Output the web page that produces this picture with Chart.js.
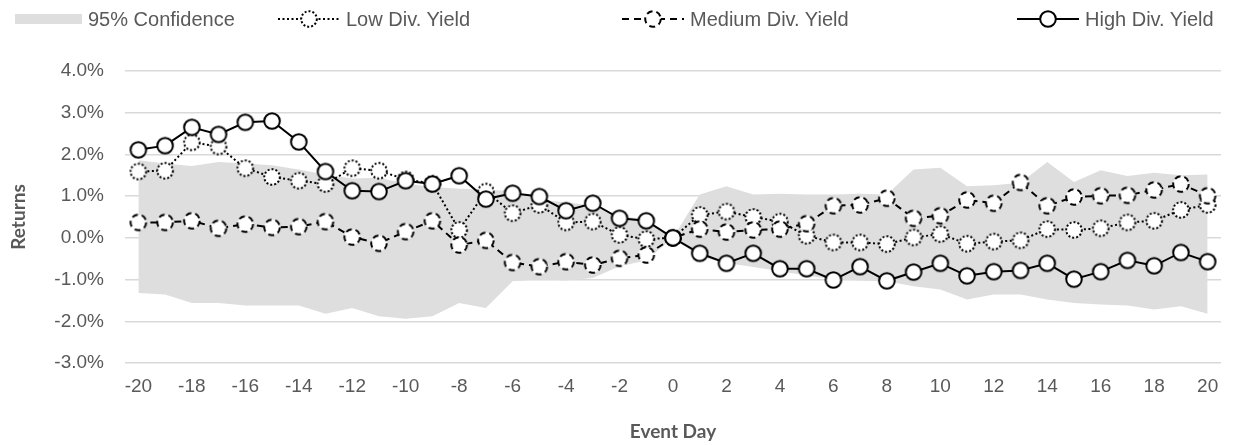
<!DOCTYPE html>
<html>
<head>
<meta charset="utf-8">
<script src="https://cdn.jsdelivr.net/npm/chart.js@4.4.1/dist/chart.umd.min.js"></script>
<style>
  html, body { margin: 0; padding: 0; background: #fff; }
  #wrap { position: relative; width: 1233px; height: 445px; }
  #legend { position: absolute; left: 0; top: 0; width: 1233px; height: 40px; }
  .item { position: absolute; top: 6px; height: 26px; display: flex; align-items: center;
          font-family: "Liberation Sans", Arial, sans-serif; font-size: 20px; color: #595959; white-space: nowrap; }
  .item canvas { margin-right: 6px; }
</style>
</head>
<body>
<div id="wrap">
  <canvas id="mycanvas" width="1233" height="445"></canvas>
  <div id="legend"></div>
</div>
<script>
// event days -20 .. 20
var days = [-20,-19,-18,-17,-16,-15,-14,-13,-12,-11,-10,-9,-8,-7,-6,-5,-4,-3,-2,-1,0,
            1,2,3,4,5,6,7,8,9,10,11,12,13,14,15,16,17,18,19,20];

// returns in %
var lowYield = [1.59,1.61,2.29,2.19,1.67,1.46,1.37,1.29,1.67,1.61,1.40,1.30,0.19,1.11,0.59,0.79,0.37,0.39,0.07,-0.03,0.00,
                0.55,0.63,0.50,0.39,0.05,-0.11,-0.11,-0.15,0.01,0.09,-0.14,-0.09,-0.06,0.21,0.19,0.23,0.37,0.41,0.67,0.79];
var medYield = [0.37,0.37,0.41,0.23,0.33,0.25,0.27,0.39,0.02,-0.13,0.15,0.41,-0.17,-0.06,-0.59,-0.69,-0.57,-0.65,-0.49,-0.41,0.00,
                0.21,0.14,0.19,0.21,0.34,0.77,0.79,0.95,0.47,0.53,0.91,0.83,1.33,0.77,0.98,1.01,1.02,1.15,1.29,1.01];
var highYield = [2.11,2.21,2.65,2.48,2.77,2.80,2.30,1.59,1.13,1.11,1.37,1.29,1.49,0.93,1.07,0.99,0.65,0.83,0.47,0.41,0.00,
                 -0.37,-0.61,-0.37,-0.74,-0.74,-1.01,-0.69,-1.03,-0.82,-0.61,-0.91,-0.81,-0.78,-0.61,-0.99,-0.81,-0.54,-0.67,-0.35,-0.57];
var confUpper = [1.86,1.78,1.72,1.82,1.78,1.74,1.64,1.52,1.42,1.44,1.30,1.22,1.18,1.16,1.12,0.92,0.85,0.78,0.52,0.45,0.00,
                 1.04,1.24,1.04,1.06,1.04,1.04,1.06,1.04,1.64,1.68,1.24,1.26,1.32,1.82,1.34,1.62,1.48,1.56,1.50,1.52];
var confLower = [-1.32,-1.36,-1.56,-1.56,-1.62,-1.62,-1.62,-1.82,-1.68,-1.88,-1.94,-1.88,-1.56,-1.68,-1.04,-1.00,-1.02,-0.96,-0.68,-0.54,0.00,
                 -0.45,-0.60,-0.70,-0.80,-0.90,-1.00,-1.02,-1.04,-1.16,-1.24,-1.48,-1.36,-1.36,-1.48,-1.56,-1.60,-1.62,-1.72,-1.64,-1.82];
var yTicks = [-3,-2,-1,0,1,2,3,4];

var bandColor = '#dedede';
var textColor = '#595959';

function markerImage(dash) {
	var c = document.createElement('canvas');
	c.width = 20; c.height = 20;
	var g = c.getContext('2d');
	g.beginPath();
	g.arc(10, 10, 7.8, 0, Math.PI * 2);
	g.fillStyle = '#fff';
	g.fill();
	g.setLineDash(dash);
	g.lineWidth = 2;
	g.strokeStyle = '#000';
	g.stroke();
	return c;
}

var lowDash = [2, 2.5];
var medDash = [7, 5];

var chartdata = {
	labels: days,
	datasets: [
		{ label: '95% Confidence', data: confUpper, borderWidth: 0, pointRadius: 0,
		  backgroundColor: bandColor, fill: '+1', order: 4 },
		{ label: 'lower', data: confLower, borderWidth: 0, pointRadius: 0, fill: false, order: 5 },
		{ label: 'Low Div. Yield', data: lowYield, borderColor: '#000', borderWidth: 2, borderDash: lowDash,
		  pointStyle: markerImage([2, 2]), order: 2 },
		{ label: 'Medium Div. Yield', data: medYield, borderColor: '#000', borderWidth: 2, borderDash: medDash,
		  pointStyle: markerImage([6, 4]), order: 1 },
		{ label: 'High Div. Yield', data: highYield, borderColor: '#000', borderWidth: 2,
		  pointStyle: markerImage([]), order: 0 }
	]
};

var ctx = document.getElementById('mycanvas');
var chart = new Chart(ctx, {
	type: 'line',
	data: chartdata,
	options: {
		responsive: false,
		animation: false,
		events: [],
		layout: { padding: { top: 71, right: 12, left: 0, bottom: 0 } },
		plugins: { legend: { display: false }, tooltip: { enabled: false } },
		elements: { line: { tension: 0 } },
		scales: {
			x: {
				offset: true,
				grid: { display: false, drawTicks: false, offset: true },
				border: { display: false },
				ticks: {
					autoSkip: false, maxRotation: 0, padding: 12, color: textColor,
					font: { family: 'Liberation Sans', size: 19 },
					callback: function(v, i) { return days[i] % 2 === 0 ? String(days[i]) : ''; }
				},
				title: { display: true, text: 'Event Day', color: textColor,
				         font: { family: 'Lato', size: 19, weight: 'bold' }, padding: { top: 0, bottom: 2 } },
				afterFit: function(s) { s.height = 82; }
			},
			y: {
				min: -3, max: 4,
				grid: { color: '#d9d9d9', lineWidth: 1.5, drawTicks: false },
				border: { display: false },
				afterBuildTicks: function(s) { s.ticks = yTicks.map(function(v) { return { value: v }; }); },
				ticks: {
					padding: 21, color: textColor,
					font: { family: 'Liberation Sans', size: 19 },
					callback: function(v) { return v.toFixed(1) + '%'; }
				},
				title: { display: true, text: 'Returns', color: textColor,
				         font: { family: 'Lato', size: 19, weight: 'bold' }, padding: { top: 7, bottom: 0 } },
				afterFit: function(s) { s.width = 125; }
			}
		}
	}
});

// legend built as html, symbols drawn with the same dash styles
var legendItems = [
	{ text: '95% Confidence', left: 15, kind: 'box' },
	{ text: 'Low Div. Yield', left: 278, kind: 'line', dash: lowDash, mdash: [2, 2] },
	{ text: 'Medium Div. Yield', left: 622, kind: 'line', dash: medDash, mdash: [6, 4] },
	{ text: 'High Div. Yield', left: 1017, kind: 'line', dash: [], mdash: [] }
];
var legend = document.getElementById('legend');
legendItems.forEach(function(it) {
	var d = document.createElement('div');
	d.className = 'item';
	d.style.left = it.left + 'px';
	var c = document.createElement('canvas');
	c.width = it.kind === 'box' ? 67 : 62;
	c.height = 22;
	var g = c.getContext('2d');
	if (it.kind === 'box') {
		g.fillStyle = bandColor;
		g.fillRect(0, 6, 67, 10);
	} else {
		g.strokeStyle = '#000';
		g.lineWidth = 2;
		g.setLineDash(it.dash);
		g.beginPath(); g.moveTo(0, 11); g.lineTo(62, 11); g.stroke();
		g.drawImage(markerImage(it.mdash), 21, 1);
	}
	d.appendChild(c);
	var s = document.createElement('span');
	s.textContent = it.text;
	d.appendChild(s);
	legend.appendChild(d);
});
</script>
</body>
</html>
